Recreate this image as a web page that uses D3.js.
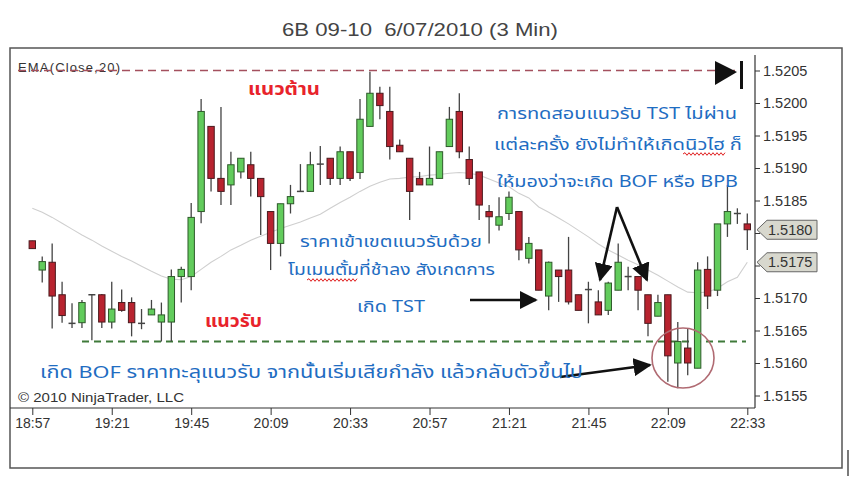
<!DOCTYPE html>
<html><head><meta charset="utf-8">
<script src="https://cdn.jsdelivr.net/npm/d3@7/dist/d3.min.js"></script>
<style>body{margin:0;background:#fff}svg{display:block}</style>
</head><body>
<svg id="c" width="854" height="477"></svg>
<script>
// ---- data ----
const tickLabels = ["18:57","19:21","19:45","20:09","20:33","20:57","21:21","21:45","22:09","22:33"];
const tickIndex = [0,8,16,24,32,40,48,56,64,72];
const yTicks = [1.5155,1.5160,1.5165,1.5170,1.5175,1.5180,1.5185,1.5190,1.5195,1.5200,1.5205];
const yTickLabels = ["1.5155","1.5160","1.5165","1.5170","","","1.5185","1.5190","1.5195","1.5200","1.5205"];
const openP  = [1.51788,1.51743,1.51755,1.51705,1.51661,1.51662,1.51705,1.51705,1.51663,1.51693,1.51693,1.51661,1.51674,1.51663,1.51663,1.51733,1.51733,1.51833,1.51964,1.51884,1.51874,1.51894,1.51905,1.51884,1.51833,1.51784,1.51845,1.51864,1.51864,1.51906,1.51915,1.51884,1.51925,1.51893,1.51964,1.52015,1.51987,1.51935,1.51915,1.51884,1.51874,1.51884,1.51933,1.51987,1.51913,1.51894,1.51833,1.51812,1.51830,1.51833,1.51761,1.51774,1.51703,1.51743,1.51743,1.51705,1.51713,1.51694,1.51681,1.51712,1.51733,1.51733,1.51705,1.51672,1.51705,1.51600,1.51623,1.51592,1.51744,1.51712,1.51814,1.51830,1.51814];
const highP  = [1.51788,1.51764,1.51784,1.51725,1.51692,1.51697,1.51705,1.51706,1.51725,1.51713,1.51701,1.51683,1.51697,1.51693,1.51744,1.51748,1.51846,1.52006,1.51964,1.51994,1.51925,1.51915,1.51925,1.51884,1.51833,1.51845,1.51874,1.51906,1.51925,1.51934,1.51915,1.51933,1.51925,1.52006,1.52048,1.52025,1.52025,1.51944,1.51915,1.51894,1.51933,1.51925,1.51994,1.52015,1.51933,1.51894,1.51843,1.51855,1.51864,1.51833,1.51794,1.51774,1.51756,1.51743,1.51794,1.51705,1.51725,1.51712,1.51725,1.51784,1.51748,1.51733,1.51705,1.51705,1.51705,1.51663,1.51653,1.51755,1.51764,1.51814,1.51874,1.51838,1.51830];
const lowP   = [1.51776,1.51724,1.51653,1.51662,1.51654,1.51654,1.51635,1.51654,1.51653,1.51679,1.51641,1.51652,1.51674,1.51633,1.51633,1.51693,1.51712,1.51815,1.51864,1.51843,1.51843,1.51884,1.51856,1.51797,1.51743,1.51764,1.51830,1.51864,1.51864,1.51874,1.51874,1.51874,1.51880,1.51883,1.51964,1.51975,1.51913,1.51925,1.51820,1.51874,1.51874,1.51884,1.51933,1.51915,1.51874,1.51820,1.51784,1.51804,1.51820,1.51758,1.51753,1.51712,1.51681,1.51694,1.51690,1.51681,1.51661,1.51674,1.51674,1.51712,1.51712,1.51681,1.51641,1.51672,1.51571,1.51561,1.51581,1.51592,1.51683,1.51703,1.51794,1.51814,1.51774];
const closeP = [1.51776,1.51756,1.51703,1.51673,1.51661,1.51693,1.51705,1.51663,1.51683,1.51681,1.51662,1.51661,1.51683,1.51674,1.51733,1.51744,1.51824,1.51987,1.51884,1.51864,1.51905,1.51915,1.51884,1.51856,1.51784,1.51845,1.51856,1.51864,1.51905,1.51906,1.51884,1.51925,1.51884,1.51975,1.52015,1.51996,1.51933,1.51925,1.51864,1.51874,1.51884,1.51925,1.51975,1.51925,1.51884,1.51843,1.51825,1.51825,1.51855,1.51774,1.51784,1.51712,1.51755,1.51733,1.51694,1.51681,1.51713,1.51674,1.51723,1.51755,1.51733,1.51712,1.51661,1.51693,1.51611,1.51633,1.51600,1.51743,1.51703,1.51814,1.51833,1.51830,1.51805];
const emaP   = [1.51838,1.51832,1.51824,1.51815,1.51806,1.51797,1.51789,1.51780,1.51772,1.51764,1.51757,1.51749,1.51741,1.51734,1.51729,1.51728,1.51733,1.51744,1.51755,1.51764,1.51774,1.51781,1.51789,1.51795,1.51801,1.51807,1.51812,1.51817,1.51823,1.51829,1.51838,1.51847,1.51855,1.51864,1.51872,1.51878,1.51883,1.51884,1.51886,1.51887,1.51889,1.51890,1.51892,1.51893,1.51892,1.51889,1.51883,1.51877,1.51871,1.51861,1.51854,1.51840,1.51832,1.51823,1.51814,1.51804,1.51794,1.51783,1.51774,1.51766,1.51758,1.51751,1.51743,1.51735,1.51726,1.51717,1.51709,1.51708,1.51709,1.51715,1.51725,1.51732,1.51755];
const resistance = 1.52050;
const support = 1.51633;

// ---- scales ----
const svg = d3.select("#c");
svg.append("rect").attr("width",854).attr("height",477).attr("fill","#fff");
const x = d3.scaleLinear().domain([0,72]).range([32.3,747.3]);
const y = d3.scaleLinear().domain([1.5155,1.5205]).range([395.5,70.5]);
const sans = "'Liberation Sans', Arial, sans-serif";
const thai = "'Noto Sans Thai','Leelawadee UI',Tahoma,'Noto Sans',sans-serif";

// title
svg.append("text").attr("x",282).attr("y",36).style("white-space","pre")
  .attr("font-family",sans).attr("font-size",19).attr("fill","#444")
  .attr("textLength",276).attr("lengthAdjust","spacingAndGlyphs").text("6B 09-10  6/07/2010 (3 Min)");

// frame
svg.append("path").attr("d","M10,48 H842 V468 H10 Z").attr("fill","none").attr("stroke","#555").attr("stroke-width",1.5);
svg.append("line").attr("x1",848).attr("x2",848).attr("y1",450).attr("y2",476).attr("stroke","#222").attr("stroke-width",1.2);

// EMA label
svg.append("text").attr("x",18).attr("y",72).attr("font-family",sans).attr("font-size",13)
  .attr("fill","#333").attr("textLength",102).text("EMA(Close,20)");

// resistance / support lines
svg.append("line").attr("x1",18).attr("x2",735).attr("y1",y(resistance)).attr("y2",y(resistance))
  .attr("stroke","#a4505e").attr("stroke-width",1.6).attr("stroke-dasharray","8,5");
svg.append("line").attr("x1",82).attr("x2",746).attr("y1",y(support)).attr("y2",y(support))
  .attr("stroke","#3f7a3a").attr("stroke-width",2).attr("stroke-dasharray","7,5");

// EMA line
svg.append("path").datum(emaP).attr("fill","none").attr("stroke","#cfcfcf").attr("stroke-width",1.1)
  .attr("d",d3.line().x((d,i)=>x(i)).y(d=>y(d)));

// candles
const idx = d3.range(openP.length);
const g = svg.append("g");
g.selectAll("line.w").data(idx).join("line").attr("class","w")
  .attr("x1",i=>x(i)).attr("x2",i=>x(i)).attr("y1",i=>y(highP[i])).attr("y2",i=>y(lowP[i]))
  .attr("stroke","#444").attr("stroke-width",1.3);
g.selectAll("rect.b").data(idx.filter(i=>Math.abs(openP[i]-closeP[i])>0.00001)).join("rect").attr("class","b")
  .attr("x",i=>x(i)-3.2).attr("width",6.4)
  .attr("y",i=>y(Math.max(openP[i],closeP[i])))
  .attr("height",i=>Math.max(2,Math.abs(y(openP[i])-y(closeP[i]))))
  .attr("fill",i=>closeP[i]>openP[i]?"#62cc5c":"#b8232f")
  .attr("stroke",i=>closeP[i]>openP[i]?"#2e5a2a":"#4a1a1e").attr("stroke-width",1);
g.selectAll("line.d").data(idx.filter(i=>Math.abs(openP[i]-closeP[i])<=0.00001)).join("line").attr("class","d")
  .attr("x1",i=>x(i)-3.5).attr("x2",i=>x(i)+3.5).attr("y1",i=>y(closeP[i])).attr("y2",i=>y(closeP[i]))
  .attr("stroke","#444").attr("stroke-width",1.5);

// axes
const xa = svg.append("g").attr("transform","translate(0,408)")
  .call(d3.axisBottom(x).tickValues(tickIndex).tickFormat((d,i)=>tickLabels[i]).tickSize(7).tickPadding(3));
xa.select(".domain").remove();
xa.selectAll("text").attr("font-family",sans).attr("font-size",14).attr("fill","#333");
xa.selectAll("line").attr("stroke","#333");
svg.append("line").attr("x1",10).attr("x2",755).attr("y1",408).attr("y2",408).attr("stroke","#333").attr("stroke-width",1.2);

const ya = svg.append("g").attr("transform","translate(755,0)")
  .call(d3.axisRight(y).tickValues(yTicks).tickFormat((d,i)=>yTickLabels[i]).tickSize(5).tickPadding(3));
ya.select(".domain").remove();
ya.selectAll("text").attr("font-family",sans).attr("font-size",14.5).attr("fill","#333");
ya.selectAll("line").attr("stroke","#333");
svg.append("line").attr("x1",755).attr("x2",755).attr("y1",55).attr("y2",408).attr("stroke","#333").attr("stroke-width",1.2);

// price markers
function marker(v,label){
  const yy=y(v);
  svg.append("path").attr("d",`M757,${yy} L767,${yy-9.5} L817,${yy-9.5} L817,${yy+9.5} L767,${yy+9.5} Z`)
    .attr("fill","#d8d8ce").attr("stroke","#666").attr("stroke-width",1);
  svg.append("text").attr("x",768).attr("y",yy+5).attr("font-family",sans).attr("font-size",14.5)
    .attr("fill","#333").text(label);
}
marker(closeP[72],"1.5180");
marker(emaP[72],"1.5175");

// resistance end marker
svg.append("path").attr("d","M715,61 L715,85 L737,72 Z").attr("fill","#111");
svg.append("line").attr("x1",741.5).attr("x2",741.5).attr("y1",61).attr("y2",89).attr("stroke","#111").attr("stroke-width",3);

// copyright
svg.append("text").attr("x",18).attr("y",402).attr("font-family",sans).attr("font-size",13)
  .attr("fill","#333").attr("textLength",166).attr("lengthAdjust","spacingAndGlyphs").text("© 2010 NinjaTrader, LLC");

// circle
svg.append("ellipse").attr("cx",683).attr("cy",358).attr("rx",31).attr("ry",30)
  .attr("fill","none").attr("stroke","#b06a72").attr("stroke-width",1.6);

// arrows
const defs = svg.append("defs");
defs.append("marker").attr("id","ah").attr("viewBox","0 0 10 10").attr("refX",9).attr("refY",5)
  .attr("markerWidth",7).attr("markerHeight",7).attr("markerUnits","strokeWidth").attr("orient","auto")
  .append("path").attr("d","M0,0 L10,5 L0,10 Z").attr("fill","#111");
function arrow(x1,y1,x2,y2){
  svg.append("line").attr("x1",x1).attr("y1",y1).attr("x2",x2).attr("y2",y2)
    .attr("stroke","#111").attr("stroke-width",2.6).attr("marker-end","url(#ah)");
}
arrow(470,300,536,300);
arrow(617,207,600,280);
arrow(617,207,647,280);
arrow(560,377,650,365);

// annotations
function tx(x0,y0,s,len,size,color,weight){
  svg.append("text").attr("x",x0).attr("y",y0).attr("font-family",thai).attr("font-size",size)
    .attr("fill",color).attr("font-weight",weight||"normal").attr("textLength",len)
    .attr("lengthAdjust","spacingAndGlyphs").text(s);
}
const blue="#1f6dc2", red="#e8232b";
tx(248,95,"แนวต้าน",72,17,red,"bold");
tx(205,327,"แนวรับ",57,17,red,"bold");
tx(497,119,"การทดสอบแนวรับ TST ไม่ผ่าน",240,16,blue);
tx(494,150,"แต่ละครั้ง ยังไม่ทำให้เกิดนิวไฮ ก็",248,16,blue);
tx(497,187,"ให้มองว่าจะเกิด BOF หรือ BPB",241,16,blue);
tx(300,247,"ราคาเข้าเขตแนวรับด้วย",182,16,blue);
tx(288,275,"โมเมนตั้มที่ช้าลง สังเกตการ",207,16,blue);
tx(357,312,"เกิด TST",68,16,blue);
tx(40,378,"เกิด BOF ราคาทะลุแนวรับ จากนั้นเริ่มเสียกำลัง แล้วกลับตัวขึ้นไป",543,17,blue);

// spell-check squiggles
function squiggle(x1,x2,yy){
  let d=`M${x1},${yy}`; let up=true;
  for(let xx=x1+2;xx<=x2;xx+=2){ d+=` L${xx},${yy+(up?-1.3:1.3)}`; up=!up; }
  svg.append("path").attr("d",d).attr("fill","none").attr("stroke","#e02020").attr("stroke-width",1);
}
squiggle(683,725,154);
squiggle(307,357,280);
</script>
</body></html>
